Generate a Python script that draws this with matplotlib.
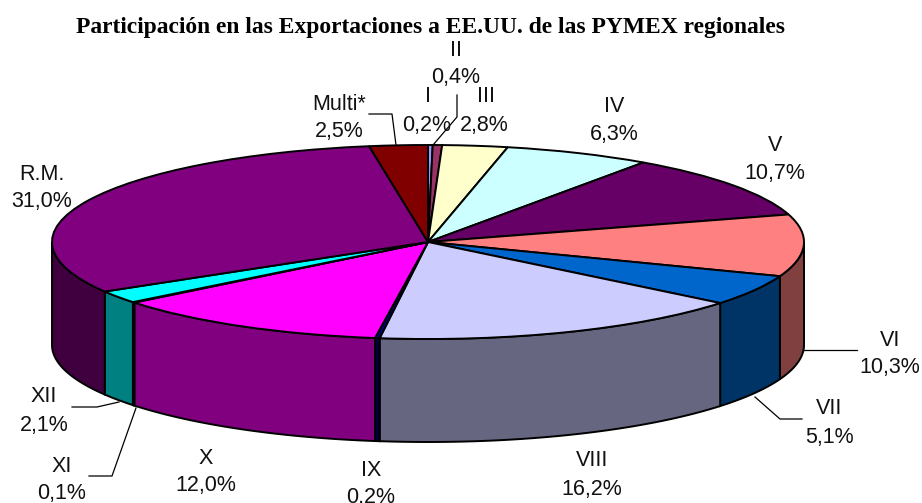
import numpy as np
import matplotlib
matplotlib.use("Agg")
import matplotlib.pyplot as plt
from matplotlib.colors import to_rgb
from matplotlib.lines import Line2D

regions = ["I", "II", "III", "IV", "V", "VI", "VII", "VIII", "IX", "X", "XI", "XII", "R.M.", "Multi*"]
shares = [0.2, 0.4, 2.8, 6.3, 10.7, 10.3, 5.1, 16.2, 0.2, 12.0, 0.1, 2.1, 31.0, 2.5]
colors = ["#9999ff", "#993366", "#ffffcc", "#ccffff", "#660066", "#ff8080", "#0066cc",
          "#ccccff", "#000080", "#ff00ff", "#ffff00", "#00ffff", "#800080", "#800000"]

W, H = 922, 503
CX, CY, RX, RY, DEPTH = 428, 242, 376, 97, 103

# label centres in pixels: name line, value line
name_pos = [(428, 97), (456, 51), (486, 97), (614, 106), (775, 146), (890, 340), (829, 408),
            (592, 461), (371, 471), (206, 458), (62, 466), (44, 397), (42, 174), (339, 104)]
value_pos = [(427, 126), (456, 78), (484, 125), (614, 134), (775, 174), (890, 368), (829, 437),
             (592, 489), (371, 498), (206, 485), (62, 493), (44, 425), (42, 201), (339, 131)]

leaders = [
    [(369, 114), (392, 114), (396, 145)],
    [(457, 95), (457, 117), (433, 145)],
    [(72, 407), (97, 407), (119, 402)],
    [(89, 476), (112, 476), (136, 408)],
    [(804, 350), (857, 350)],
    [(755, 397), (780, 419), (802, 419)],
]


def fx(px):
    return px / W


def fy(py):
    return 1 - py / H


fig = plt.figure(figsize=(W / 100, H / 100), dpi=100)
ax = fig.add_axes([0, 0, 1, 1])

ax.pie(shares, colors=colors, startangle=90, counterclock=False, radius=1,
       wedgeprops=dict(edgecolor="black", linewidth=1.4), normalize=True)
ax.set_aspect("auto")
ax.set_xlim(-CX / RX, (W - CX) / RX)
ax.set_ylim(-(H - CY) / RY, CY / RY)
ax.axis("off")

# side wall of the pie: only the front half (90..270 deg clockwise from the top) shows
depth = DEPTH / RY
edges = np.cumsum([0] + shares) / sum(shares) * 360
for i in range(len(shares)):
    a0 = max(edges[i], 90)
    a1 = min(edges[i + 1], 270)
    if a1 <= a0:
        continue
    t = np.radians(np.linspace(a0, a1, 60))
    x = np.sin(t)
    y = np.cos(t)
    dark = tuple(c * 0.5 for c in to_rgb(colors[i]))
    ax.fill(np.r_[x, x[::-1]], np.r_[y, y[::-1] - depth], facecolor=dark,
            edgecolor="black", linewidth=1.4, zorder=0.5)

fig.text(fx(430), fy(27), "Participación en las Exportaciones a EE.UU. de las PYMEX regionales",
         family="Liberation Serif", fontweight="bold", fontsize=16.95, ha="center", va="center")

for i in range(len(shares)):
    value = f"{shares[i]:.1f}%".replace(".", ",")
    fig.text(fx(name_pos[i][0]), fy(name_pos[i][1]), regions[i], family="Liberation Sans",
             fontsize=15.5, ha="center", va="center", color="#111111")
    fig.text(fx(value_pos[i][0]), fy(value_pos[i][1]), value, family="Liberation Sans",
             fontsize=15.5, ha="center", va="center", color="#111111")

for pts in leaders:
    fig.add_artist(Line2D([fx(p[0]) for p in pts], [fy(p[1]) for p in pts],
                          color="black", linewidth=0.9))

fig.savefig("out.png", dpi=100)
